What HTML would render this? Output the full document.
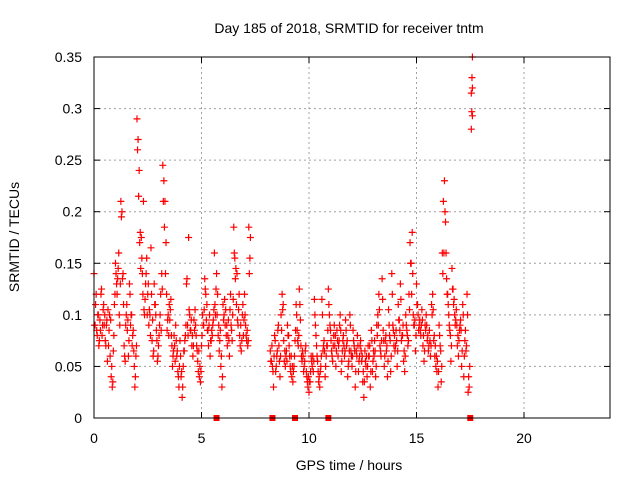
<!DOCTYPE html>
<html><head><meta charset="utf-8">
<style>
html,body{margin:0;padding:0;background:#fff;}
svg{display:block;font-family:"Liberation Sans",sans-serif;}
</style></head>
<body>
<svg id="chart" width="640" height="480" viewBox="0 0 640 480">
<text x="349" y="33" font-size="14" text-anchor="middle" fill="#000">Day 185 of 2018, SRMTID for receiver tntm</text>
<text x="349" y="470" font-size="14" text-anchor="middle" fill="#000">GPS time / hours</text>
<text transform="translate(19,237) rotate(-90)" font-size="14" text-anchor="middle" fill="#000">SRMTID / TECUs</text>
<g id="grid"></g>
<g id="ticks"></g>
<g id="marks"></g>
<rect x="94" y="57" width="516" height="361" fill="none" stroke="#000" stroke-width="1"/>
</svg>
<script>
const xTicks = [0,5,10,15,20];
const yTicks = [0,0.05,0.1,0.15,0.2,0.25,0.3,0.35];
const yTickLabels = ["0","0.05","0.1","0.15","0.2","0.25","0.3","0.35"];
const segStart = [0, 8.2, 0.025, 8.225];
const segStep = [0.05, 0.05, 0.05, 0.05];
const segA = [0.14,0.09,0.12,0.08,0.10,0.075,0.085,0.125,0.09,0.11,
0.10,0.07,0.095,0.105,0.085,0.06,0.04,0.03,0.065,0.11,
0.15,0.13,0.135,0.16,0.09,0.21,0.20,0.14,0.07,0.055,
0.10,0.085,0.06,0.13,0.09,0.10,0.08,0.065,0.03,0.06,
0.29,0.27,0.24,0.18,0.175,0.14,0.21,0.10,0.13,0.155,
0.12,0.09,0.10,0.165,0.075,0.06,0.13,0.11,0.085,0.055,
0.07,0.09,0.12,0.14,0.245,0.23,0.21,0.17,0.085,0.10,
0.11,0.105,0.08,0.05,0.065,0.07,0.09,0.06,0.045,0.03,
0.075,0.04,0.02,0.05,0.065,0.08,0.13,0.09,0.175,0.10,
0.085,0.07,0.06,0.095,0.105,0.08,0.065,0.045,0.04,0.035,
0.07,0.10,0.09,0.135,0.12,0.11,0.085,0.09,0.06,0.075,
0.08,0.095,0.16,0.10,0.14,0.12,0.09,0.075,0.05,0.03,
0.11,0.10,0.09,0.08,0.07,0.095,0.06,0.12,0.085,0.10,
0.185,0.155,0.145,0.14,0.09,0.12,0.07,0.065,0.10,0.08,
0.12,0.09,0.075,0.07,0.185,0.155];
const segB = [0.065,0.055,0.05,0.03,0.08,0.045,0.06,0.085,0.07,0.04,
0.10,0.12,0.11,0.055,0.05,0.065,0.09,0.08,0.06,0.045,
0.04,0.035,0.05,0.075,0.11,0.085,0.07,0.125,0.095,0.06,
0.065,0.045,0.055,0.07,0.04,0.03,0.025,0.035,0.06,0.05,
0.045,0.115,0.09,0.07,0.055,0.035,0.03,0.05,0.115,0.065,
0.075,0.04,0.06,0.07,0.125,0.10,0.085,0.065,0.055,0.08,
0.07,0.05,0.085,0.06,0.075,0.10,0.045,0.065,0.08,0.06,
0.095,0.07,0.04,0.055,0.10,0.065,0.05,0.085,0.07,0.03,
0.065,0.08,0.045,0.06,0.075,0.055,0.035,0.02,0.065,0.05,
0.04,0.07,0.06,0.03,0.085,0.045,0.065,0.075,0.04,0.09,
0.10,0.12,0.07,0.06,0.135,0.085,0.05,0.075,0.065,0.04,
0.105,0.08,0.045,0.14,0.09,0.07,0.065,0.085,0.05,0.11,
0.095,0.13,0.075,0.08,0.055,0.045,0.10,0.085,0.07,0.12,
0.17,0.15,0.18,0.10,0.09,0.065,0.13,0.11,0.085,0.095,
0.08,0.105,0.07,0.055,0.09,0.10,0.075,0.065,0.085,0.06,
0.11,0.12,0.075,0.06,0.05,0.045,0.03,0.09,0.07,0.035,
0.16,0.21,0.23,0.19,0.135,0.12,0.10,0.085,0.055,0.145,
0.125,0.115,0.09,0.105,0.07,0.06,0.085,0.095,0.05,0.11,
0.04,0.075,0.065,0.12,0.025,0.03];
const segA2 = [0.09,0.11,0.085,0.10,0.07,0.095,0.12,0.08,0.105,0.09,
0.075,0.09,0.055,0.07,0.10,0.095,0.05,0.035,0.08,0.12,
0.14,0.12,0.145,0.10,0.13,0.195,0.135,0.11,0.06,0.09,
0.11,0.095,0.075,0.12,0.10,0.07,0.085,0.05,0.04,0.07,
0.26,0.215,0.17,0.145,0.155,0.12,0.105,0.115,0.14,0.10,
0.13,0.105,0.08,0.12,0.095,0.065,0.11,0.10,0.075,0.06,
0.08,0.10,0.085,0.125,0.21,0.185,0.14,0.12,0.095,0.08,
0.095,0.115,0.07,0.06,0.08,0.055,0.075,0.065,0.04,0.05,
0.06,0.045,0.03,0.065,0.075,0.09,0.135,0.08,0.105,0.085,
0.095,0.08,0.07,0.085,0.09,0.07,0.055,0.065,0.05,0.045,
0.08,0.09,0.105,0.125,0.095,0.085,0.07,0.10,0.075,0.085,
0.09,0.105,0.11,0.125,0.10,0.08,0.065,0.085,0.06,0.04,
0.095,0.115,0.105,0.09,0.08,0.075,0.105,0.09,0.075,0.115,
0.16,0.135,0.11,0.095,0.105,0.08,0.09,0.075,0.11,0.095,
0.10,0.08,0.085,0.075,0.14,0.175];
const segB2 = [0.055,0.07,0.045,0.06,0.075,0.05,0.065,0.09,0.055,0.06,
0.085,0.105,0.075,0.065,0.06,0.055,0.08,0.07,0.05,0.06,
0.05,0.045,0.06,0.085,0.10,0.075,0.08,0.11,0.07,0.055,
0.06,0.05,0.065,0.045,0.035,0.04,0.035,0.045,0.055,0.06,
0.055,0.10,0.08,0.06,0.045,0.04,0.045,0.06,0.10,0.07,
0.065,0.05,0.07,0.085,0.11,0.09,0.075,0.06,0.07,0.09,
0.08,0.065,0.075,0.07,0.09,0.085,0.055,0.075,0.07,0.065,
0.085,0.075,0.05,0.065,0.09,0.06,0.06,0.075,0.065,0.045,
0.06,0.07,0.055,0.07,0.065,0.06,0.045,0.035,0.055,0.06,
0.05,0.06,0.07,0.045,0.075,0.055,0.06,0.065,0.05,0.08,
0.09,0.105,0.065,0.075,0.115,0.075,0.06,0.08,0.07,0.055,
0.09,0.075,0.06,0.12,0.085,0.08,0.07,0.075,0.065,0.095,
0.085,0.115,0.08,0.09,0.065,0.06,0.09,0.08,0.075,0.105,
0.15,0.12,0.14,0.09,0.095,0.08,0.11,0.10,0.09,0.085,
0.09,0.095,0.08,0.065,0.085,0.09,0.08,0.07,0.075,0.07,
0.10,0.105,0.08,0.07,0.06,0.055,0.045,0.08,0.065,0.05,
0.14,0.16,0.20,0.16,0.12,0.11,0.09,0.08,0.07,0.125,
0.11,0.10,0.095,0.09,0.08,0.075,0.09,0.085,0.065,0.10,
0.06,0.085,0.07,0.10,0.04,0.05];
const segValues = [segA, segB, segA2, segB2];
const spikeTimes = [17.6,17.58,17.6,17.55,17.57,17.6,17.55];
const spikeValues = [0.35,0.33,0.32,0.315,0.297,0.293,0.28];
const zeroTimes = [5.7,8.3,9.35,10.9,17.5];

const X0=94, X1=610, Y0=418, Y1=57;
const xs = t => X0 + t/24*(X1-X0);
const ys = v => Y0 - v/0.35*(Y0-Y1);
const NS="http://www.w3.org/2000/svg";
function mk(tag, attrs, parent){const e=document.createElementNS(NS,tag);for(const k in attrs)e.setAttribute(k,attrs[k]);parent.appendChild(e);return e;}
const grid=document.getElementById('grid'), ticks=document.getElementById('ticks'), marks=document.getElementById('marks');
xTicks.forEach(t=>{
  const x=xs(t);
  if(t>0){const g=mk('line',{x1:x,y1:Y1,x2:x,y2:Y0,stroke:'#a0a0a0','stroke-dasharray':'2,3'},grid);
  
  }
  const tl=mk('line',{x1:x,y1:Y0,x2:x,y2:Y0-6,stroke:'#000'},ticks);
  
  
  const tl2=mk('line',{x1:x,y1:Y1,x2:x,y2:Y1+6,stroke:'#000'},ticks);
  
  
  const lb=mk('text',{x:x,y:443,'font-size':14,'text-anchor':'middle',fill:'#000'},ticks);
  lb.textContent=String(t);
  
  
});
yTicks.forEach((v,i)=>{
  const y=ys(v);
  if(i>0&&i<yTicks.length-1){const g=mk('line',{x1:X0,y1:y,x2:X1,y2:y,stroke:'#a0a0a0','stroke-dasharray':'2,3'},grid);
  
  }
  const tl=mk('line',{x1:X0,y1:y,x2:X0+6,y2:y,stroke:'#000'},ticks);
  
  
  const tl2=mk('line',{x1:X1,y1:y,x2:X1-6,y2:y,stroke:'#000'},ticks);
  
  
  const lb=mk('text',{x:82,y:y+5,'font-size':14,'text-anchor':'end',fill:'#000'},ticks);
  lb.textContent=yTickLabels[i];
  
  
});
function plus(t,v){
  const x=xs(t), y=ys(v);
  const p=mk('path',{d:`M${x-3.5},${y}H${x+3.5}M${x},${y-3.5}V${y+3.5}`,stroke:'#ff0000','stroke-width':1.2,fill:'none'},marks);
  
  
}
segValues.forEach((vals,s)=>vals.forEach((v,i)=>plus(segStart[s]+i*segStep[s],v)));
spikeValues.forEach((v,i)=>plus(spikeTimes[i],v));
zeroTimes.forEach(t=>{
  const r=mk('rect',{x:xs(t)-3,y:Y0-3,width:6,height:6,fill:'#ff0000'},marks);
  
  
});
</script>
</body></html>
